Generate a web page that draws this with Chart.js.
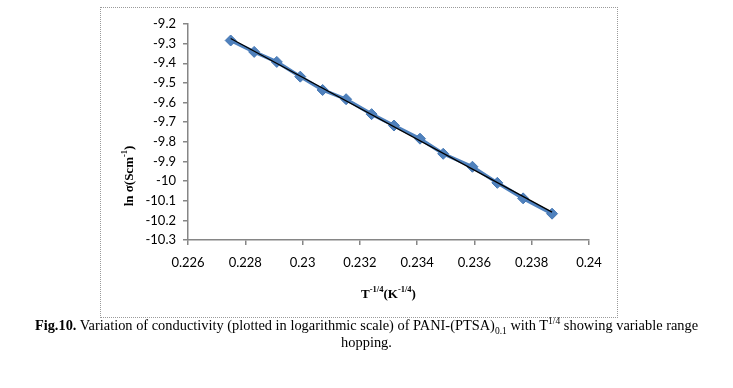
<!DOCTYPE html>
<html lang="en">
<head>
    <meta charset="UTF-8">
    <title>ln sigma vs T^-1/4</title>
    <script src="https://cdn.jsdelivr.net/npm/chart.js"></script>
    <style>
        body {
            margin: 0;
            background: #fff;
            width: 733px;
            height: 388px;
            position: relative;
            overflow: hidden;
        }
        #box {
            position: absolute;
            left: 100px;
            top: 7px;
            width: 516px;
            height: 309px;
            border: 1px dotted #9a9a9a;
        }
        #caption {
            position: absolute;
            left: 0;
            top: 317px;
            width: 733px;
            text-align: center;
            font-family: "Liberation Serif", "Times New Roman", serif;
            font-size: 14.4px;
            line-height: 17px;
            color: #000;
        }
        sub, sup { font-size: 9.5px; line-height: 0; }
    </style>
</head>
<body>
    <div id="box"><canvas id="chart" width="516" height="309"></canvas></div>
    <div id="caption"><b>Fig.10.</b> Variation of conductivity (plotted in logarithmic scale) of PANI-(PTSA)<sub>0.1</sub> with T<sup>1/4</sup> showing variable range<br>hopping.</div>

    <script>
        // T^-1/4 (K^-1/4)
        const xVals = [0.22749, 0.22831, 0.22910, 0.22992, 0.23070, 0.23152, 0.23241,
                       0.23319, 0.23410, 0.23491, 0.23593, 0.23680, 0.23770, 0.23871];
        // ln sigma (S cm^-1)
        const yVals = [-9.284, -9.342, -9.393, -9.468, -9.536, -9.583, -9.659,
                       -9.717, -9.784, -9.861, -9.927, -10.009, -10.088, -10.166];

        const xTicks = ['0.226', '0.228', '0.23', '0.232', '0.234', '0.236', '0.238', '0.24'];
        const yTicks = ['-9.2', '-9.3', '-9.4', '-9.5', '-9.6', '-9.7', '-9.8', '-9.9',
                        '-10', '-10.1', '-10.2', '-10.3'];

        // linear fit for the black line
        function fitLine(xs, ys) {
            const n = xs.length;
            let sx = 0, sy = 0, sxx = 0, sxy = 0;
            for (let i = 0; i < n; i++) {
                sx += xs[i]; sy += ys[i];
                sxx += xs[i] * xs[i]; sxy += xs[i] * ys[i];
            }
            const m = (n * sxy - sx * sy) / (n * sxx - sx * sx);
            const b = (sy - m * sx) / n;
            const x0 = xs[0], x1 = xs[n - 1];
            return [{ x: x0, y: m * x0 + b }, { x: x1, y: m * x1 + b }];
        }

        const points = xVals.map((x, i) => ({ x: x, y: yVals[i] }));
        const trend = fitLine(xVals, yVals);

        // draws the axis titles with superscripts
        const titles = {
            id: 'titles',
            afterDraw(chart) {
                const ctx = chart.ctx;
                const area = chart.chartArea;
                const big = 'bold 13px "Liberation Serif", serif';
                const small = 'bold 8.5px "Liberation Serif", serif';

                function drawParts(parts, cx, cy) {
                    let w = 0;
                    parts.forEach(p => { ctx.font = p[1] ? small : big; w += ctx.measureText(p[0]).width; });
                    let x = cx - w / 2;
                    ctx.textBaseline = 'alphabetic';
                    ctx.textAlign = 'left';
                    ctx.fillStyle = '#000';
                    parts.forEach(p => {
                        ctx.font = p[1] ? small : big;
                        ctx.fillText(p[0], x, p[1] ? cy - 6 : cy);
                        x += ctx.measureText(p[0]).width;
                    });
                }

                ctx.save();
                drawParts([['T', 0], ['-1/4', 1], ['(K', 0], ['-1/4', 1], [')', 0]],
                    (area.left + area.right) / 2, 290);
                ctx.restore();

                ctx.save();
                ctx.translate(32, 168);
                ctx.rotate(-Math.PI / 2);
                drawParts([['ln σ(Scm', 0], ['-1', 1], [')', 0]], 0, 0);
                ctx.restore();
            }
        };

        function drawChart() {
            const ctx = document.getElementById('chart').getContext('2d');
            new Chart(ctx, {
                type: 'scatter',
                data: {
                    datasets: [
                        {
                            data: points,
                            showLine: true,
                            borderColor: '#4F81BD',
                            backgroundColor: '#4F81BD',
                            borderWidth: 3.5,
                            pointStyle: 'rectRot',
                            pointRadius: 5.5,
                            pointBorderWidth: 1,
                            pointBorderColor: '#4577B3',
                            order: 2
                        },
                        {
                            data: trend,
                            showLine: true,
                            borderColor: '#000',
                            borderWidth: 1.3,
                            pointRadius: 0,
                            order: 1
                        }
                    ]
                },
                options: {
                    responsive: false,
                    animation: false,
                    layout: { padding: { left: 0, top: 16, right: 28, bottom: 17 } },
                    plugins: {
                        legend: { display: false },
                        tooltip: { enabled: false }
                    },
                    scales: {
                        x: {
                            type: 'linear',
                            min: Number(xTicks[0]),
                            max: Number(xTicks[xTicks.length - 1]),
                            afterBuildTicks: axis => {
                                axis.ticks = xTicks.map(t => ({ value: Number(t) }));
                            },
                            afterFit: axis => { axis.height = 60; },
                            ticks: {
                                callback: v => xTicks.find(t => Math.abs(Number(t) - v) < 1e-6),
                                color: '#000',
                                font: { family: 'Lato', size: 13 },
                                padding: 10,
                                maxRotation: 0,
                                autoSkip: false
                            },
                            grid: {
                                drawOnChartArea: false,
                                color: '#868686',
                                tickLength: 5,
                                lineWidth: 1.5
                            },
                            border: { color: '#868686', width: 1.5 }
                        },
                        y: {
                            type: 'linear',
                            min: Number(yTicks[yTicks.length - 1]),
                            max: Number(yTicks[0]),
                            afterBuildTicks: axis => {
                                axis.ticks = yTicks.map(t => ({ value: Number(t) }));
                            },
                            afterFit: axis => { axis.width = 87; },
                            ticks: {
                                callback: v => yTicks.find(t => Math.abs(Number(t) - v) < 1e-6),
                                color: '#000',
                                font: { family: 'Lato', size: 13 },
                                padding: 7,
                                autoSkip: false
                            },
                            grid: {
                                drawOnChartArea: false,
                                color: '#868686',
                                tickLength: 5,
                                lineWidth: 1.5
                            },
                            border: { color: '#868686', width: 1.5 }
                        }
                    }
                },
                plugins: [titles]
            });
        }

        drawChart();
    </script>
</body>
</html>
